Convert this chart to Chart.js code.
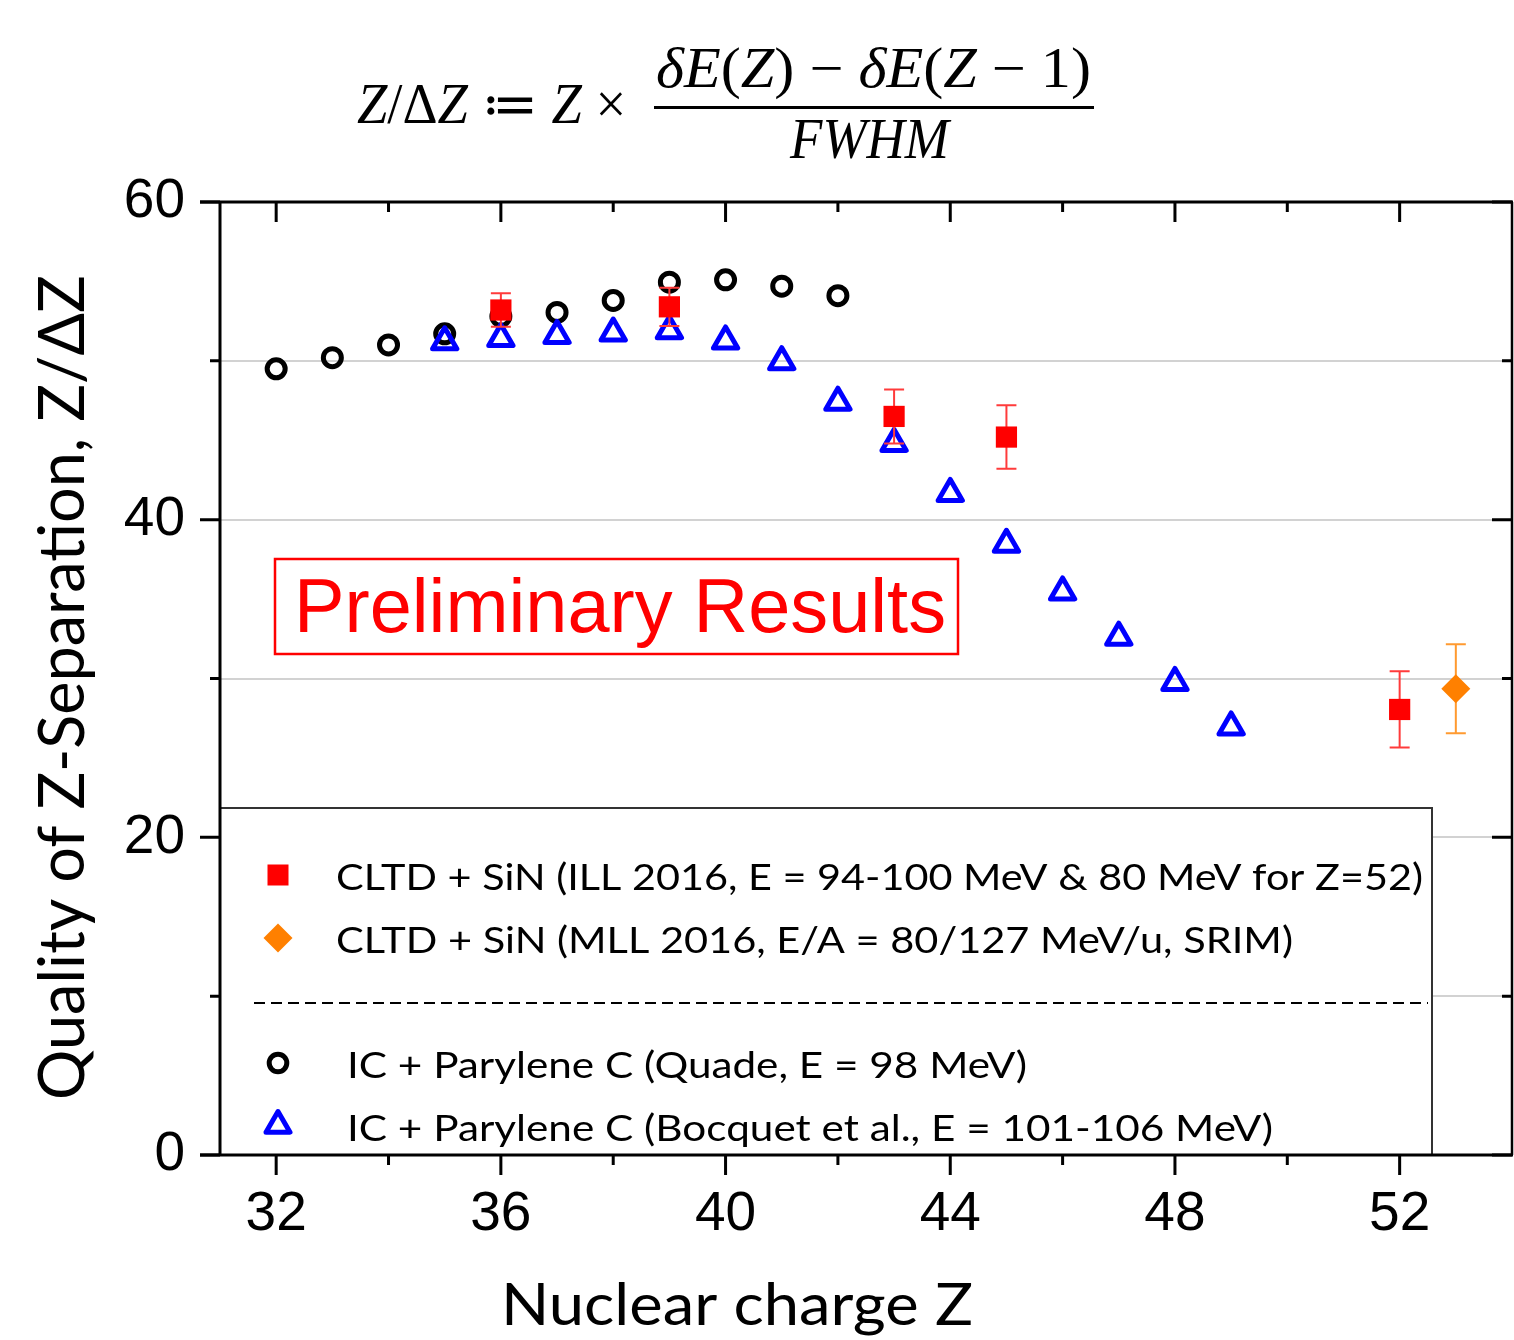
<!DOCTYPE html>
<html>
<head>
<meta charset="utf-8">
<title>Quality of Z-Separation</title>
<script src="https://cdn.jsdelivr.net/npm/chart.js"></script>
<style>
  html, body { margin: 0; padding: 0; background: #fff; overflow: hidden; }
  #zChart { display: block; width: 1514px; height: 1340px; }
</style>
</head>
<body>
<canvas id="zChart" width="1514" height="1340"></canvas>
<script>
// CLTD + SiN, ILL 2016
const illZ = [36, 39, 43, 45, 52];
const illQ = [53.2, 53.4, 46.5, 45.2, 28.05];
const illErr = [1.05, 1.2, 1.7, 2.0, 2.4];

// CLTD + SiN, MLL 2016
const mllZ = [53];
const mllQ = [29.35];
const mllErr = [2.8];

// IC + Parylene C (Quade)
const quadeZ = [32, 33, 34, 35, 36, 37, 38, 39, 40, 41, 42];
const quadeQ = [49.5, 50.2, 51.0, 51.7, 52.8, 53.05, 53.8, 54.95, 55.1, 54.7, 54.1];

// IC + Parylene C (Bocquet et al.)
const bocquetZ = [35, 36, 37, 38, 39, 40, 41, 42, 43, 44, 45, 46, 47, 48, 49];
const bocquetQ = [51.2, 51.4, 51.6, 51.75, 51.9, 51.25, 49.95, 47.4, 44.8, 41.65, 38.45, 35.45, 32.6, 29.75, 26.95];

const xTicks = [32, 36, 40, 44, 48, 52];
const xMinorTicks = [34, 38, 42, 46, 50];
const yTicks = [0, 10, 20, 30, 40, 50, 60];

const legendLabels = [
    'CLTD + SiN (ILL 2016, E = 94-100 MeV & 80 MeV for Z=52)',
    'CLTD + SiN (MLL 2016, E/A = 80/127 MeV/u, SRIM)',
    'IC + Parylene C (Quade, E = 98 MeV)',
    'IC + Parylene C (Bocquet et al., E = 101-106 MeV)'
];

const toPoints = (xs, ys) => xs.map((x, i) => ({x: x, y: ys[i]}));

// текст, растянутый/сжатый по ширине
function fitText(ctx, text, x, y, width) {
    const w = ctx.measureText(text).width;
    ctx.save();
    ctx.translate(x, y);
    ctx.scale(width / w, 1);
    ctx.fillText(text, 0, 0);
    ctx.restore();
}

// формула: куски [текст, курсив?]
const SERIF = '"Liberation Serif", "DejaVu Serif", serif';
function drawMath(ctx, parts, x, y, width, size) {
    const fontOf = it => (it ? 'italic ' : '') + size + 'px ' + SERIF;
    let total = 0;
    parts.forEach(p => { ctx.font = fontOf(p[1]); total += ctx.measureText(p[0]).width; });
    ctx.save();
    ctx.translate(x, y);
    ctx.scale(width / total, 1);
    let cx = 0;
    parts.forEach(p => {
        ctx.font = fontOf(p[1]);
        ctx.fillText(p[0], cx, 0);
        cx += ctx.measureText(p[0]).width;
    });
    ctx.restore();
}

// error bars under the markers
const errorBars = {
    id: 'errorBars',
    beforeDatasetsDraw(chart) {
        chart.ctx.lineJoin = 'round';
    },
    beforeDatasetDraw(chart, args) {
        const ds = chart.data.datasets[args.index];
        if (!ds.errors) return;
        const ctx = chart.ctx;
        const xs = chart.scales.x, ys = chart.scales.y;
        ctx.save();
        ctx.strokeStyle = ds.errorColor;
        ctx.lineWidth = 2;
        ds.data.forEach((p, i) => {
            const px = xs.getPixelForValue(p.x);
            const top = ys.getPixelForValue(p.y + ds.errors[i]);
            const bot = ys.getPixelForValue(p.y - ds.errors[i]);
            ctx.beginPath();
            ctx.moveTo(px, top); ctx.lineTo(px, bot);
            ctx.moveTo(px - 10, top); ctx.lineTo(px + 10, top);
            ctx.moveTo(px - 10, bot); ctx.lineTo(px + 10, bot);
            ctx.stroke();
        });
        ctx.restore();
    },
    afterDatasetsDraw(chart) {
        chart.ctx.lineJoin = 'miter';
    }
};

// formula, legend box, frame, titles
const decorations = {
    id: 'decorations',
    afterDraw(chart) {
        const ctx = chart.ctx;
        const area = chart.chartArea;
        const xs = chart.scales.x, ys = chart.scales.y;
        ctx.save();

        // формула сверху
        ctx.fillStyle = '#000';
        ctx.textAlign = 'left';
        ctx.textBaseline = 'alphabetic';
        drawMath(ctx, [['Z', 1], ['/', 0], ['Δ', 0], ['Z', 1], [' ≔ ', 0], ['Z', 1], [' × ', 0]], 357, 123, 283, 56);
        drawMath(ctx, [['δE', 1], ['(', 0], ['Z', 1], [')', 0], [' − ', 0], ['δE', 1], ['(', 0], ['Z', 1],
                       [' − ', 0], ['1', 0], [')', 0]], 656, 87, 435, 56);
        drawMath(ctx, [['FWHM', 1]], 790, 158, 159, 56);
        ctx.fillRect(654, 106, 440, 3);

        // Preliminary Results
        ctx.strokeStyle = '#ff0000';
        ctx.lineWidth = 2.5;
        ctx.strokeRect(275, 559, 683, 95);
        ctx.fillStyle = '#ff0000';
        ctx.font = '76px "Liberation Sans", Arial, sans-serif';
        fitText(ctx, 'Preliminary Results', 294, 632, 652);

        // легенда
        ctx.fillStyle = '#fff';
        ctx.fillRect(220, 808, 1212, 347);
        ctx.strokeStyle = '#333';
        ctx.lineWidth = 2;
        ctx.strokeRect(220, 808, 1212, 347);

        ctx.fillStyle = '#ff0000';
        ctx.fillRect(267.5, 864.5, 21, 21);

        ctx.fillStyle = '#ff8000';
        ctx.beginPath();
        ctx.moveTo(278, 923.5); ctx.lineTo(292.5, 938);
        ctx.lineTo(278, 952.5); ctx.lineTo(263.5, 938);
        ctx.closePath();
        ctx.fill();

        ctx.strokeStyle = '#000';
        ctx.lineWidth = 5;
        ctx.beginPath();
        ctx.arc(278, 1063, 8.8, 0, Math.PI * 2);
        ctx.stroke();

        ctx.strokeStyle = '#0000ff';
        ctx.lineJoin = 'round';
        ctx.beginPath();
        ctx.moveTo(278, 1111.5);
        ctx.lineTo(278 + 12, 1132.2);
        ctx.lineTo(278 - 12, 1132.2);
        ctx.closePath();
        ctx.stroke();
        ctx.lineJoin = 'miter';

        ctx.strokeStyle = '#000';
        ctx.lineWidth = 2;
        ctx.setLineDash([11, 6]);
        ctx.beginPath();
        ctx.moveTo(254, 1003); ctx.lineTo(1428, 1003);
        ctx.stroke();
        ctx.setLineDash([]);

        ctx.fillStyle = '#000';
        ctx.font = '37.5px Lato, "Open Sans", sans-serif';
        fitText(ctx, legendLabels[0], 336, 890, 1087);
        fitText(ctx, legendLabels[1], 336, 953, 957);
        fitText(ctx, legendLabels[2], 347, 1078, 680);
        fitText(ctx, legendLabels[3], 347, 1141, 926);

        // рамка и засечки
        ctx.strokeStyle = '#000';
        ctx.lineWidth = 3;
        ctx.beginPath();
        ctx.moveTo(200, area.top); ctx.lineTo(area.right + 1, area.top);
        ctx.moveTo(200, area.bottom); ctx.lineTo(area.right + 1, area.bottom);
        ctx.moveTo(area.left, area.top); ctx.lineTo(area.left, area.bottom);
        ctx.stroke();
        ctx.lineWidth = 2.5;
        ctx.beginPath();
        ctx.moveTo(area.right, area.top); ctx.lineTo(area.right, area.bottom);
        ctx.stroke();

        ctx.lineWidth = 3;
        ctx.beginPath();
        yTicks.forEach(v => {
            const py = ys.getPixelForValue(v);
            const len = v % 20 === 0 ? 20 : 10;
            ctx.moveTo(area.left - len, py); ctx.lineTo(area.left, py);
            ctx.moveTo(area.right, py); ctx.lineTo(area.right - len, py);
        });
        xTicks.forEach(v => {
            const px = xs.getPixelForValue(v);
            ctx.moveTo(px, area.bottom); ctx.lineTo(px, area.bottom + 20);
            ctx.moveTo(px, area.top); ctx.lineTo(px, area.top + 20);
        });
        xMinorTicks.forEach(v => {
            const px = xs.getPixelForValue(v);
            ctx.moveTo(px, area.bottom); ctx.lineTo(px, area.bottom + 10);
            ctx.moveTo(px, area.top); ctx.lineTo(px, area.top + 10);
        });
        ctx.stroke();

        // подписи осей
        ctx.fillStyle = '#000';
        ctx.font = '58px Lato, "Open Sans", sans-serif';
        fitText(ctx, 'Nuclear charge Z', 501, 1325, 472);

        ctx.translate(84, 687.5);
        ctx.rotate(-Math.PI / 2);
        ctx.font = '64px Lato, "Open Sans", sans-serif';
        fitText(ctx, 'Quality of Z-Separation, Z/ΔZ', -412.5, 0, 825);

        ctx.restore();
    }
};

const ctx = document.getElementById('zChart').getContext('2d');
const zChart = new Chart(ctx, {
    type: 'scatter',
    data: {
        datasets: [
            {
                label: legendLabels[0],
                data: toPoints(illZ, illQ),
                errors: illErr,
                errorColor: '#ff3b3b',
                pointStyle: 'rect',
                pointRadius: 15,
                pointHoverRadius: 15,
                pointBackgroundColor: '#ff0000',
                pointBorderWidth: 0
            },
            {
                label: legendLabels[1],
                data: toPoints(mllZ, mllQ),
                errors: mllErr,
                errorColor: '#ff9a30',
                pointStyle: 'rectRot',
                pointRadius: 14.5,
                pointHoverRadius: 14.5,
                pointBackgroundColor: '#ff8000',
                pointBorderWidth: 0
            },
            {
                label: legendLabels[3],
                data: toPoints(bocquetZ, bocquetQ),
                pointStyle: 'triangle',
                pointRadius: 14,
                pointHoverRadius: 14,
                pointBackgroundColor: 'rgba(0,0,0,0)',
                pointBorderColor: '#0000ff',
                pointBorderWidth: 5,
                pointHoverBorderWidth: 5
            },
            {
                label: legendLabels[2],
                data: toPoints(quadeZ, quadeQ),
                pointStyle: 'circle',
                pointRadius: 9,
                pointHoverRadius: 9,
                pointBackgroundColor: 'rgba(0,0,0,0)',
                pointBorderColor: '#000',
                pointBorderWidth: 5,
                pointHoverBorderWidth: 5
            }
        ]
    },
    options: {
        responsive: false,
        animation: false,
        layout: {
            autoPadding: false,
            padding: { top: 202, right: 2, left: 0, bottom: 0 }
        },
        plugins: {
            legend: { display: false },
            tooltip: { enabled: false }
        },
        scales: {
            x: {
                type: 'linear',
                min: 31,
                max: 54,
                afterFit: scale => {
                    scale.height = 185;
                    scale.paddingLeft = 0;
                    scale.paddingRight = 0;
                },
                afterBuildTicks: scale => { scale.ticks = xTicks.map(v => ({value: v})); },
                grid: { display: false, drawTicks: false },
                border: { display: false },
                ticks: {
                    autoSkip: false,
                    maxRotation: 0,
                    padding: 27,
                    color: '#000',
                    font: { family: '"Liberation Sans", Arial, sans-serif', size: 55 }
                }
            },
            y: {
                type: 'linear',
                min: 0,
                max: 60,
                afterFit: scale => {
                    scale.width = 220;
                    scale.paddingTop = 0;
                    scale.paddingBottom = 0;
                },
                afterBuildTicks: scale => { scale.ticks = yTicks.map(v => ({value: v})); },
                grid: {
                    drawTicks: false,
                    lineWidth: 2,
                    color: c => (c.tick && c.tick.value > 0 && c.tick.value < 60) ? '#d2d2d2' : 'rgba(0,0,0,0)'
                },
                border: { display: false },
                ticks: {
                    padding: 35,
                    color: '#000',
                    callback: v => (v % 20 === 0 ? v : ''),
                    font: { family: '"Liberation Sans", Arial, sans-serif', size: 55 }
                }
            }
        }
    },
    plugins: [errorBars, decorations]
});
</script>
</body>
</html>
